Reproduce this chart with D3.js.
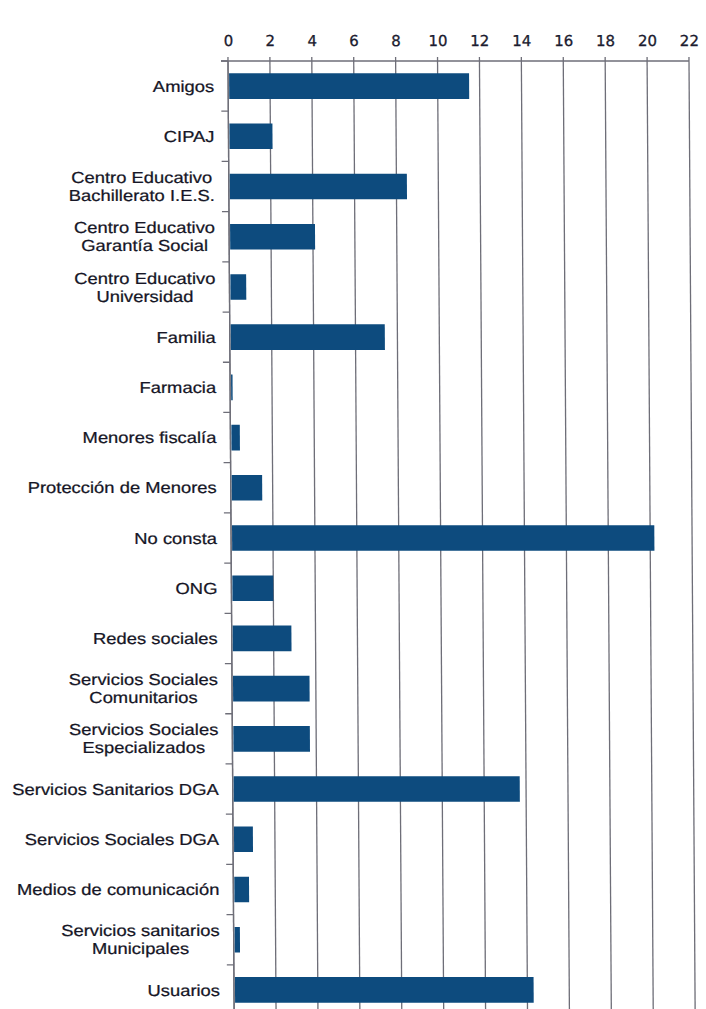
<!DOCTYPE html>
<html>
<head>
<meta charset="utf-8">
<script src="https://cdn.jsdelivr.net/npm/d3@7"></script>
<style>
  body { margin: 0; background: #fff; }
  .cat { font-family: "Liberation Sans", Arial, sans-serif; font-size: 16px; fill: #161626; stroke: #161626; stroke-width: 0.25px; }
  .tickLabel { font-family: "DejaVu Sans", sans-serif; font-size: 15px; fill: #1c1c30; stroke: #1c1c30; stroke-width: 0.3px; }
</style>
</head>
<body>
<div id="chart"></div>
<script>
// categories (two-line labels split with \n)
var categories = [
  "Amigos",
  "CIPAJ",
  "Centro Educativo\nBachillerato I.E.S.",
  "Centro Educativo\nGarantía Social",
  "Centro Educativo\nUniversidad",
  "Familia",
  "Farmacia",
  "Menores fiscalía",
  "Protección de Menores",
  "No consta",
  "ONG",
  "Redes sociales",
  "Servicios Sociales\nComunitarios",
  "Servicios Sociales\nEspecializados",
  "Servicios Sanitarios DGA",
  "Servicios Sociales DGA",
  "Medios de comunicación",
  "Servicios sanitarios\nMunicipales",
  "Usuarios"
];

// values
var values = [11.5, 2.1, 8.5, 4.1, 0.8, 7.4, 0.1, 0.45, 1.5, 20.2, 2.0, 2.85, 3.7, 3.7, 13.7, 0.95, 0.75, 0.3, 14.3];

// top axis tick labels
var xTicks = [0, 2, 4, 6, 8, 10, 12, 14, 16, 18, 20, 22];

var svgWidth = 706;
var svgHeight = 1009;

var margin = { top: 61, left: 228 };
var width = 461;
var height = 954;

var svg = d3.select("#chart")
  .append("svg")
  .attr("width", svgWidth)
  .attr("height", svgHeight);

// the scan is a little slanted, lower rows drift right
var chartGroup = svg.append("g")
  .attr("transform", `translate(${margin.left}, ${margin.top}) skewX(0.37)`);

var xScale = d3.scaleLinear()
  .domain([0, 22])
  .range([0, width]);

var yScale = d3.scaleBand()
  .domain(d3.range(categories.length))
  .range([0, height])
  .paddingInner(0.49)
  .paddingOuter(0.245);

// grid lines
chartGroup.selectAll(".grid")
  .data(xTicks)
  .enter()
  .append("line")
  .attr("x1", d => xScale(d))
  .attr("x2", d => xScale(d))
  .attr("y1", -4)
  .attr("y2", height + 10)
  .attr("stroke", "#6e6e78")
  .attr("stroke-width", 1.3);

// top axis
var topAxis = d3.axisTop(xScale)
  .tickValues(xTicks)
  .tickSize(0)
  .tickPadding(15);

var axisG = chartGroup.append("g").call(topAxis);
axisG.select(".domain").remove();
axisG.selectAll("text").attr("class", "tickLabel").attr("fill", null);

chartGroup.append("line")
  .attr("x1", -7).attr("x2", width)
  .attr("y1", 0).attr("y2", 0)
  .attr("stroke", "#6e6e78")
  .attr("stroke-width", 1.3);

// left axis line with ticks between categories
chartGroup.append("line")
  .attr("x1", 0).attr("x2", 0)
  .attr("y1", 0).attr("y2", height + 10)
  .attr("stroke", "#6e6e78")
  .attr("stroke-width", 1.3);

var step = yScale.step();
chartGroup.selectAll(".ytick")
  .data(d3.range(categories.length + 1))
  .enter()
  .append("line")
  .attr("x1", -7).attr("x2", 0)
  .attr("y1", d => d * step)
  .attr("y2", d => d * step)
  .attr("stroke", "#6e6e78")
  .attr("stroke-width", 1.3);

// bars
chartGroup.selectAll(".bar")
  .data(values)
  .enter()
  .append("rect")
  .attr("x", 1)
  .attr("y", (d, i) => yScale(i))
  .attr("width", d => Math.max(1.5, xScale(d) - 1))
  .attr("height", yScale.bandwidth())
  .attr("fill", "#0d4b7e");

// category labels: block right aligned, lines centred on each other
var labels = chartGroup.selectAll(".cat")
  .data(categories)
  .enter()
  .append("text")
  .attr("class", "cat")
  .attr("text-anchor", "middle")
  .attr("transform", (d, i) => `translate(-14, ${yScale(i) + yScale.bandwidth() / 2}) scale(1.15, 1)`);

labels.each(function(d) {
  var lines = d.split("\n");
  var t = d3.select(this);
  var spans = lines.map(function(line, k) {
    return t.append("tspan")
      .attr("y", (k - (lines.length - 1) / 2) * 18)
      .attr("dy", "0.35em")
      .text(line);
  });
  var maxW = d3.max(spans, s => s.node().getComputedTextLength());
  spans.forEach(s => s.attr("x", -maxW / 2));
});
</script>
</body>
</html>
